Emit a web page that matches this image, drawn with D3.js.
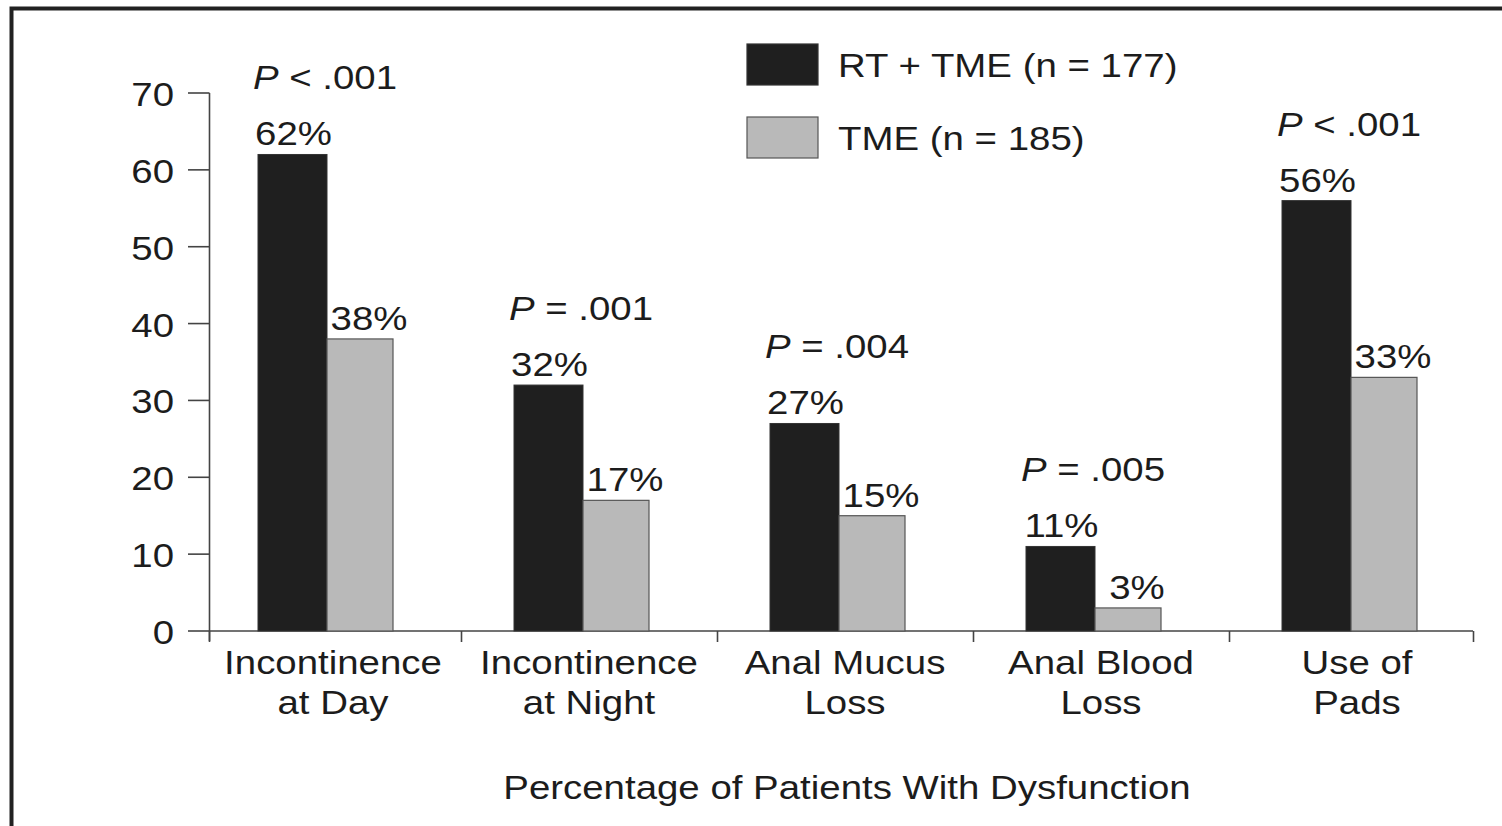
<!DOCTYPE html>
<html>
<head>
<meta charset="utf-8">
<script src="https://cdn.jsdelivr.net/npm/d3@7"></script>
<style>
  html, body { margin: 0; padding: 0; background: #fff; }
  svg { display: block; }
  text { font-family: "Liberation Sans", Arial, Helvetica, sans-serif; fill: #1c1c1c; }
</style>
</head>
<body>
<svg id="chart" width="1502" height="826"></svg>
<script>
// ---- data ----
const categories = ["Incontinence at Day", "Incontinence at Night", "Anal Mucus Loss", "Anal Blood Loss", "Use of Pads"];
const categoryLines = [["Incontinence", "at Day"], ["Incontinence", "at Night"], ["Anal Mucus", "Loss"], ["Anal Blood", "Loss"], ["Use of", "Pads"]];
const rtTme = [62, 32, 27, 11, 56];
const tmeOnly = [38, 17, 15, 3, 33];
const pOperators = ["<", "=", "=", "=", "<"];
const pValues = [".001", ".001", ".004", ".005", ".001"];
const yTicks = [0, 10, 20, 30, 40, 50, 60, 70];
const seriesNames = ["RT + TME (n = 177)", "TME (n = 185)"];
const seriesColors = ["#1f1f1f", "#b9b9b9"];
const axisTitle = "Percentage of Patients With Dysfunction";

// ---- layout ----
const W = 1502, H = 826;
const FS = 34, SX = 1.13;
const axisLeft = 209, axisRight = 1473;
const svg = d3.select("#chart");

const y = d3.scaleLinear().domain([0, 70]).range([631, 93]);
const x = d3.scaleBand().domain(categories).range([205, 1485]).padding(0);

function txt(x0, y0, anchor, s) {
  return svg.append("text")
    .attr("transform", `translate(${x0},${y0}) scale(${SX},1)`)
    .attr("text-anchor", anchor || "middle")
    .style("font-size", (s || FS) + "px");
}

// frame
svg.append("path")
  .attr("d", `M11.5,${H} V8.5 H${W}`)
  .attr("fill", "none").attr("stroke", "#222").attr("stroke-width", 4);

// y axis
svg.append("line")
  .attr("x1", axisLeft + 0.5).attr("x2", axisLeft + 0.5)
  .attr("y1", y(70)).attr("y2", y(0) + 10)
  .attr("stroke", "#444").attr("stroke-width", 1.6);
yTicks.forEach(t => {
  svg.append("line")
    .attr("x1", 188).attr("x2", axisLeft + 0.5)
    .attr("y1", y(t)).attr("y2", y(t))
    .attr("stroke", "#444").attr("stroke-width", 1.6);
  txt(174, y(t) + 13, "end").text(t);
});

// x axis
svg.append("line")
  .attr("x1", axisLeft).attr("x2", axisRight)
  .attr("y1", y(0)).attr("y2", y(0))
  .attr("stroke", "#444").attr("stroke-width", 1.6);
const boundaries = [axisLeft].concat(categories.slice(1).map(c => x(c))).concat([axisRight]);
boundaries.forEach(b => {
  svg.append("line")
    .attr("x1", b + 0.5).attr("x2", b + 0.5)
    .attr("y1", y(0)).attr("y2", y(0) + 11)
    .attr("stroke", "#444").attr("stroke-width", 1.6);
});

// category labels
categories.forEach((c, i) => {
  const cx = x(c) + x.bandwidth() / 2;
  txt(cx, 674, "middle").text(categoryLines[i][0]);
  txt(cx, 714, "middle").text(categoryLines[i][1]);
});

// bars
const bw1 = 69, bw2 = 66, shift = -6;
categories.forEach((c, i) => {
  const pc = x(c) + x.bandwidth() / 2 + shift;
  svg.append("rect")
    .attr("x", pc - bw1).attr("y", y(rtTme[i]))
    .attr("width", bw1).attr("height", y(0) - y(rtTme[i]))
    .attr("fill", seriesColors[0]).attr("stroke", "#333").attr("stroke-width", 1);
  svg.append("rect")
    .attr("x", pc).attr("y", y(tmeOnly[i]))
    .attr("width", bw2).attr("height", y(0) - y(tmeOnly[i]))
    .attr("fill", seriesColors[1]).attr("stroke", "#555").attr("stroke-width", 1.2);
  // value labels
  txt(pc - bw1 / 2 + 1, y(rtTme[i]) - 9, "middle").text(rtTme[i] + "%");
  txt(pc + bw2 / 2 + 9, y(tmeOnly[i]) - 9, "middle").text(tmeOnly[i] + "%");
  // p labels
  const top = Math.max(rtTme[i], tmeOnly[i]);
  const t = txt(pc - 2, y(top) - 9 - 56, "middle");
  t.append("tspan").style("font-style", "italic").text("P");
  t.append("tspan").text(" " + pOperators[i] + " " + pValues[i]);
});

// legend
seriesNames.forEach((n, i) => {
  const ly = [44, 117][i];
  svg.append("rect")
    .attr("x", 747).attr("y", ly).attr("width", 71).attr("height", 41)
    .attr("fill", seriesColors[i]).attr("stroke", i ? "#555" : "#333").attr("stroke-width", 1.2);
  txt(838, ly + 33, "start").text(n);
});

// axis title
txt(847, 799, "middle").text(axisTitle);
</script>
</body>
</html>
